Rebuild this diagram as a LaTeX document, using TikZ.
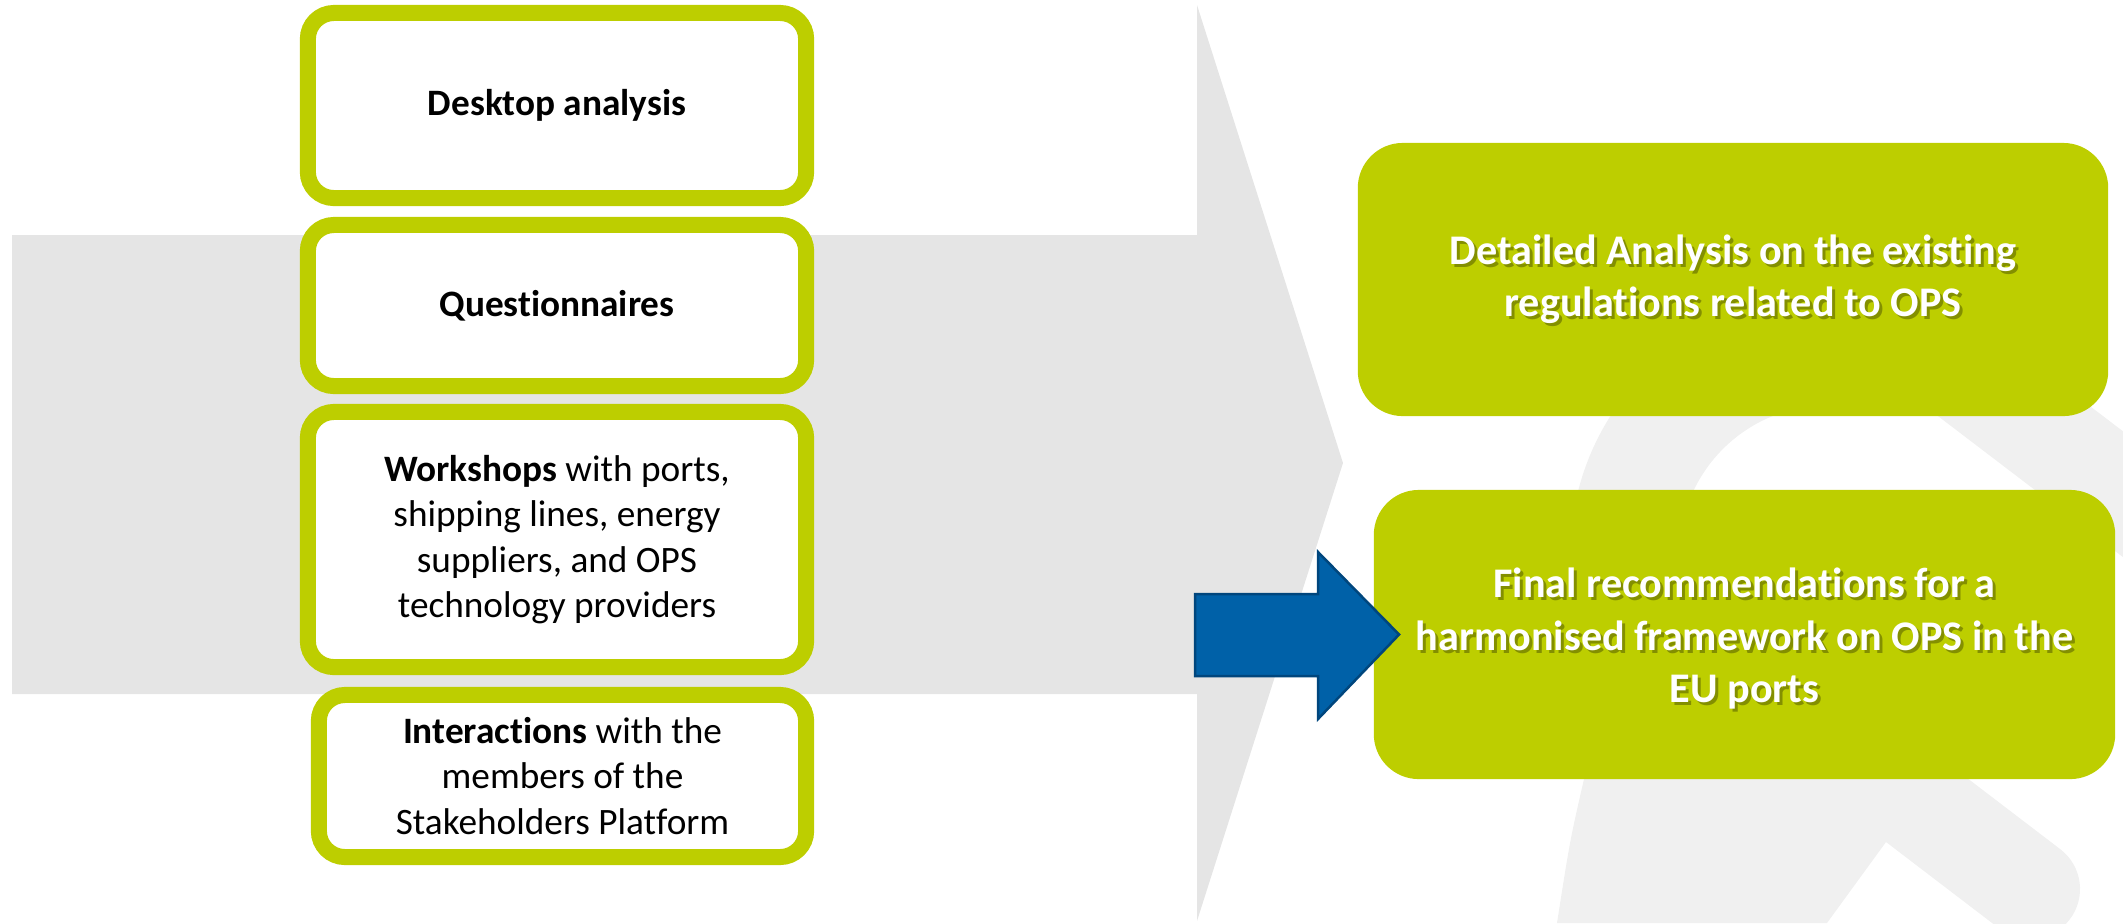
\documentclass[tikz,border=0pt]{standalone}
\usepackage{fontspec}
\setmainfont{Carlito}[Ligatures=NoCommon]
\usetikzlibrary{calc}
\definecolor{opsgreen}{RGB}{189,206,0}
\definecolor{arrowgray}{RGB}{229,229,229}
\definecolor{wmgray}{RGB}{240,240,240}
\definecolor{opsblue}{RGB}{0,97,168}
\definecolor{opsblueedge}{RGB}{0,70,125}
\begin{document}
\begin{tikzpicture}[x=0.01cm,y=-0.01cm,
  inbox/.style={draw=opsgreen, line width=0.16cm, fill=white, rounded corners=0.26cm, inner sep=0pt, align=center, font=\fontsize{10.6}{12.9}\selectfont},
  outbox/.style={fill=opsgreen, rounded corners=0.45cm, inner sep=0pt},
  outtext/.style={text=white, align=center, font=\bfseries\fontsize{12}{14.8}\selectfont},
  outshadow/.style={text=black, opacity=0.3, align=center, font=\bfseries\fontsize{12}{14.8}\selectfont},
  wm/.style={fill=wmgray, draw=none}
]
\useasboundingbox (0,0) rectangle (2123,923);
% watermark (plug icon)
\begin{scope}
  \clip (1300,0) rectangle (1880,923);
  \draw[wmgray, line width=1.09cm] (1828,554) circle[radius=2.03cm];
\end{scope}
\draw[wmgray, line width=1cm] (1800,248) -- (2250,591);
\draw[wmgray, line width=1cm, line cap=round] (1700,637) -- (2030,889);
\fill[wm] (1640,700) -- (1584,779) .. controls (1570,840) .. (1557,923) -- (1827,923) -- (1886,842) -- (1960,740) -- cycle;
% big gray arrow
\fill[arrowgray] (12,235) -- (1197,235) -- (1197,5) -- (1343,463) -- (1197,921) -- (1197,694) -- (12,694) -- cycle;
% left boxes
\node[inbox, minimum width=4.98cm, minimum height=1.85cm] (desk) at (557,105.5) {\textbf{Desktop analysis}};
\node[inbox, minimum width=4.98cm, minimum height=1.61cm] (quest) at (557,305.5) {\textbf{Questionnaires}};
\node[inbox, minimum width=4.98cm, minimum height=2.55cm] (work) at (557,539.5) {\textbf{Workshops} with ports,\\ shipping lines, energy\\ suppliers, and OPS\\ technology providers};
\node[inbox, minimum width=4.87cm, minimum height=1.62cm] (inter) at (562.5,776) {\textbf{Interactions} with the\\ members of the\\ Stakeholders Platform};
% right boxes
\node[outbox, minimum width=7.5cm, minimum height=2.73cm] (detail) at (1733,279.5) {};
\node[outbox, minimum width=7.41cm, minimum height=2.89cm] (final) at (1744.5,634.5) {};
\node[outshadow] (detailsh) at ([shift={(0.03cm,-0.03cm)}]detail.center) {Detailed Analysis on the existing\\ regulations related to OPS};
\node[outtext] (detailtxt) at (detail.center) {Detailed Analysis on the existing\\ regulations related to OPS};
\node[outshadow] (finalsh) at ([shift={(0.03cm,-0.07cm)}]final.center) {Final recommendations for a\\ harmonised framework on OPS in the\\ EU ports};
\node[outtext] (finaltxt) at ([yshift=-0.04cm]final.center) {Final recommendations for a\\ harmonised framework on OPS in the\\ EU ports};
% blue arrow
\coordinate (tip) at ([xshift=0.26cm]final.west);
\draw[fill=opsblue, draw=opsblueedge, line width=0.025cm, line join=miter]
  (1195,594) -- (1318,594) -- (1318,552) -- (tip) -- (1318,719) -- (1318,676) -- (1195,676) -- cycle;
\end{tikzpicture}
\end{document}
